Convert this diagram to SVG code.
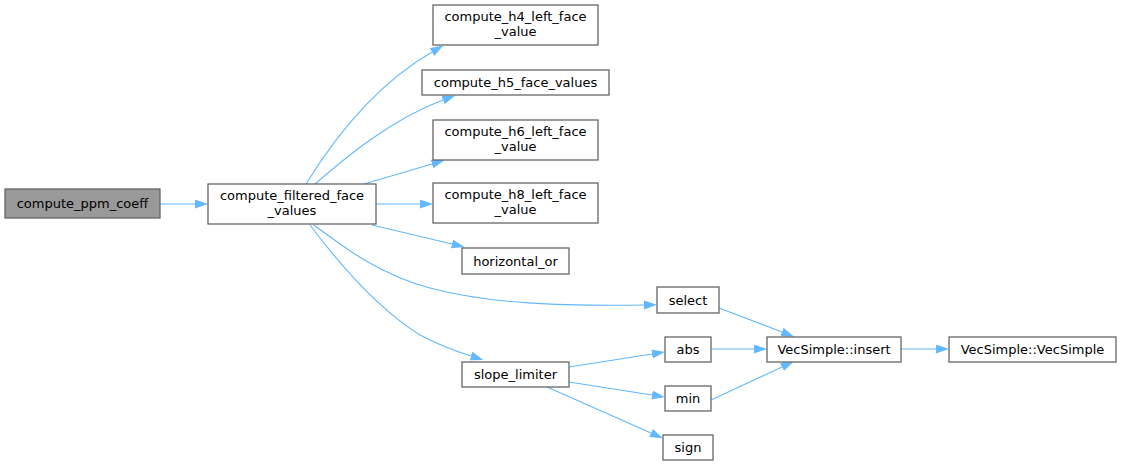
<svg xmlns="http://www.w3.org/2000/svg" width="1121" height="466" viewBox="0 0 1121 466">
<style>
.n rect{fill:#ffffff;stroke:#666666;stroke-width:1.3}
.root rect{fill:#999999;stroke:#666666}
text{font-family:"DejaVu Sans","Liberation Sans",sans-serif;font-size:13px;fill:#000000;text-anchor:middle}
.e path{fill:none;stroke:#63b8ff;stroke-width:1.1}
</style>
<defs>
<marker id="a" markerWidth="14" markerHeight="10" refX="0" refY="4.5" orient="auto" markerUnits="userSpaceOnUse">
<path d="M0,0 L13,4.5 L0,9 z" fill="#63b8ff" stroke="none"/>
</marker>
</defs>
<rect width="1121" height="466" fill="#ffffff"/>
<g id="edges" class="e">
<path d="M160,204 L195,204" marker-end="url(#a)"/>
<path d="M306,184 C330,145 370,88 432,52" marker-end="url(#a)"/>
<path d="M315,184 C345,158 390,120 443,100" marker-end="url(#a)"/>
<path d="M364,184 L432,164" marker-end="url(#a)"/>
<path d="M376,204 L420,204" marker-end="url(#a)"/>
<path d="M372,225 L452,244" marker-end="url(#a)"/>
<path d="M314,225 C345,248 380,275 430,288 C490,304 560,306 644,305" marker-end="url(#a)"/>
<path d="M310,225 C340,265 380,310 420,335 C435,343 452,350 471,356" marker-end="url(#a)"/>
<path d="M569,367 L652,354" marker-end="url(#a)"/>
<path d="M569,382 L652,395" marker-end="url(#a)"/>
<path d="M547,387 L651,433" marker-end="url(#a)"/>
<path d="M719,308 L782,332" marker-end="url(#a)"/>
<path d="M711,349 L754,349" marker-end="url(#a)"/>
<path d="M711,400 L782,367" marker-end="url(#a)"/>
<path d="M901,349 L936,349" marker-end="url(#a)"/>
</g>
<g id="compute_ppm_coeff" class="n root"><rect x="5" y="189" width="155" height="29"/><text x="82.5" y="208">compute_ppm_coeff</text></g>
<g id="compute_filtered_face_values" class="n"><rect x="208" y="184" width="168" height="40"/><text x="292" y="200">compute_filtered_face</text><text x="292" y="215">_values</text></g>
<g id="compute_h4_left_face_value" class="n"><rect x="433" y="5" width="165" height="40"/><text x="515.5" y="21">compute_h4_left_face</text><text x="515.5" y="36">_value</text></g>
<g id="compute_h5_face_values" class="n"><rect x="422" y="70" width="187" height="25"/><text x="515.5" y="87">compute_h5_face_values</text></g>
<g id="compute_h6_left_face_value" class="n"><rect x="433" y="120" width="165" height="40"/><text x="515.5" y="136">compute_h6_left_face</text><text x="515.5" y="151">_value</text></g>
<g id="compute_h8_left_face_value" class="n"><rect x="433" y="183" width="165" height="40"/><text x="515.5" y="199">compute_h8_left_face</text><text x="515.5" y="214">_value</text></g>
<g id="horizontal_or" class="n"><rect x="462" y="248" width="107" height="26"/><text x="515.5" y="265.5">horizontal_or</text></g>
<g id="select" class="n"><rect x="657" y="287" width="62" height="26"/><text x="688" y="304.5">select</text></g>
<g id="slope_limiter" class="n"><rect x="462" y="362" width="107" height="25"/><text x="515.5" y="379">slope_limiter</text></g>
<g id="abs" class="n"><rect x="665" y="337" width="46" height="25"/><text x="688" y="354">abs</text></g>
<g id="min" class="n"><rect x="665" y="386" width="46" height="25"/><text x="688" y="403">min</text></g>
<g id="sign" class="n"><rect x="663" y="435" width="50" height="25"/><text x="688" y="452">sign</text></g>
<g id="VecSimple_insert" class="n"><rect x="767" y="337" width="134" height="25"/><text x="834" y="354">VecSimple::insert</text></g>
<g id="VecSimple_VecSimple" class="n"><rect x="949" y="337" width="167" height="25"/><text x="1032.5" y="354">VecSimple::VecSimple</text></g>
</svg>
